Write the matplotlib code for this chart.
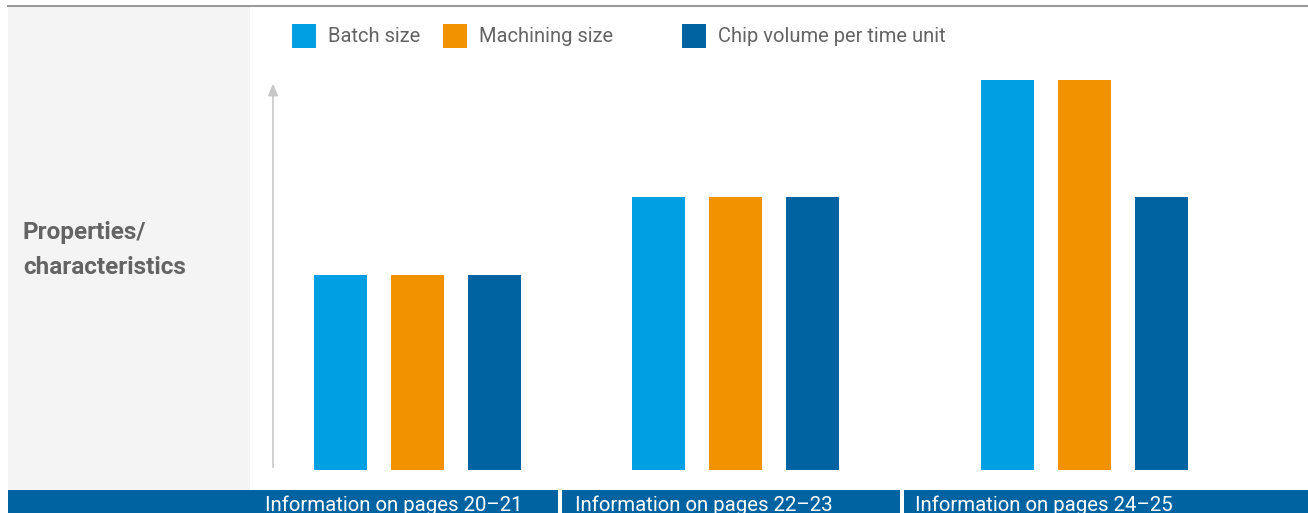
import matplotlib
matplotlib.use('Agg')
import matplotlib.pyplot as plt
from matplotlib.patches import Rectangle

# data
series = ['Batch size', 'Machining size', 'Chip volume per time unit']
colors = ['#009fe3', '#f39200', '#0063a1']
groups = ['Information on pages 20\u201321', 'Information on pages 22\u201323',
          'Information on pages 24\u201325']
batch = [2.0, 2.8, 4.0]
machining = [2.0, 2.8, 4.0]
chip = [2.0, 2.8, 2.8]
values = [batch, machining, chip]

W, H = 1308, 513
fig = plt.figure(figsize=(W / 100, H / 100), dpi=100)
plt.rcParams['font.family'] = ['Roboto', 'DejaVu Sans']

# background layer in pixel coordinates
bg = fig.add_axes([0, 0, 1, 1])
bg.set_xlim(0, W)
bg.set_ylim(H, 0)
bg.axis('off')
bg.add_patch(Rectangle((8, 6), 242, 484, color='#f4f4f4', lw=0))
bg.plot([8, W], [5.5, 5.5], color='#9a9a9a', lw=1.5)
seg = [(8, 558), (562, 900), (904, W)]
txt_x = [265, 575, 915]
for (a, b), tx, g in zip(seg, txt_x, groups):
    bg.add_patch(Rectangle((a, 490), b - a, 30, color='#0063a1', lw=0))
    bg.text(tx, 511, g, color='white', fontsize=14.7, va='baseline', ha='left')
bg.text(23, 239, 'Properties/', fontsize=17.5, fontweight='bold', color='#646464', va='baseline')
bg.text(23, 274, 'characteristics', fontsize=17.5, fontweight='bold', color='#646464', va='baseline')

# legend
leg_x = [292, 443, 682]
for lx, name, c in zip(leg_x, series, colors):
    bg.add_patch(Rectangle((lx, 24), 24, 24, color=c, lw=0))
    bg.text(lx + 36, 36, name, fontsize=14.5, color='#646464', va='center', ha='left')

# axis arrow
bg.annotate('', xy=(273, 81), xytext=(273, 470),
            arrowprops=dict(arrowstyle='-|>,head_width=0.3,head_length=0.7', color='#c8c8c8', lw=1.2))

# bar axes: one unit in x = 77 px, one unit in y = 97.5 px
step, yunit, x0, base = 77, 97.5, 417.5, 470
ax = fig.add_axes([250 / W, (H - base) / H, (W - 250) / W, 410 / H])
ax.set_xlim((250 - x0) / step, (W - x0) / step)
ax.set_ylim(0, 410 / yunit)
ax.axis('off')
group_pos = [0, 318 / step, 667 / step]
for i, (vals, c) in enumerate(zip(values, colors)):
    ax.bar([p + (i - 1) for p in group_pos], vals, width=53 / step, color=c, lw=0)

fig.savefig('out.png', dpi=100)
